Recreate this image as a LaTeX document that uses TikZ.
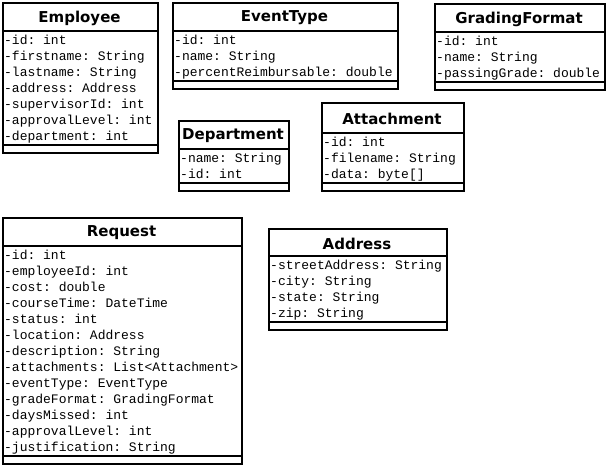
\documentclass[tikz,border=0pt]{standalone}
\usepackage{fontspec}
\newfontfamily\titlefont{DejaVu Sans}
\setmonofont{Liberation Mono}
\tikzset{
  x=1pt, y=-1pt,
  boxline/.style={draw=black, line width=1.8pt},
  classbox/.style={boxline, inner sep=0pt, anchor=north west, fill=white},
  classtitle/.style={inner sep=0pt, font=\titlefont\bfseries\fontsize{15}{17}\selectfont},
  attrrow/.style={inner sep=0pt, anchor=base west, font=\ttfamily\fontsize{13}{16}\selectfont}
}
% #1 name, #2 left, #3 right, #4 top, #5 title separator, #6 rows, #7 title, #8 rows list
\newcommand\umlclass[8]{%
  \pgfmathsetmacro\asepy{#5+16*#6+2}%
  \pgfmathsetmacro\boty{\asepy+7}%
  \node[classbox, minimum width={#3-#2}, minimum height={\boty-#4}] (#1) at (#2,#4) {};
  \draw[boxline] (#2,#5) -- (#3,#5);
  \draw[boxline] (#2,\asepy) -- (#3,\asepy);
  \node[classtitle] (#1-title) at ({(#2+#3)/2},{(#4+#5)/2+1.5}) {#7};
  \foreach \r [count=\i] in {#8} {
    \node[attrrow] (#1-r\i) at (#2+2,{#5+9+16*(\i-1)+4.5}) {\r};
  }
}
\begin{document}
\begin{tikzpicture}
\useasboundingbox (0,0) rectangle (607,467);
\umlclass{employee}{2}{157}{2}{31}{7}{Employee}{{-id: int},{-firstname: String},{-lastname: String},{-address: Address},{-supervisorId: int},{-approvalLevel: int},{-department: int}}
\umlclass{eventtype}{172}{397}{2}{31}{3}{EventType}{{-id: int},{-name: String},{-percentReimbursable: double}}
\umlclass{gradingformat}{434}{604}{3}{32}{3}{GradingFormat}{{-id: int},{-name: String},{-passingGrade: double}}
\umlclass{department}{178}{288}{120}{149}{2}{Department}{{-name: String},{-id: int}}
\umlclass{attachment}{321}{463}{102}{133}{3}{Attachment}{{-id: int},{-filename: String},{-data: byte[]}}
\umlclass{request}{2}{241}{217}{246}{13}{Request}{{-id: int},{-employeeId: int},{-cost: double},{-courseTime: DateTime},{-status: int},{-location: Address},{-description: String},{-attachments: List<Attachment>},{-eventType: EventType},{-gradeFormat: GradingFormat},{-daysMissed: int},{-approvalLevel: int},{-justification: String}}
\umlclass{address}{268}{446}{228}{256}{4}{Address}{{-streetAddress: String},{-city: String},{-state: String},{-zip: String}}
\end{tikzpicture}
\end{document}
